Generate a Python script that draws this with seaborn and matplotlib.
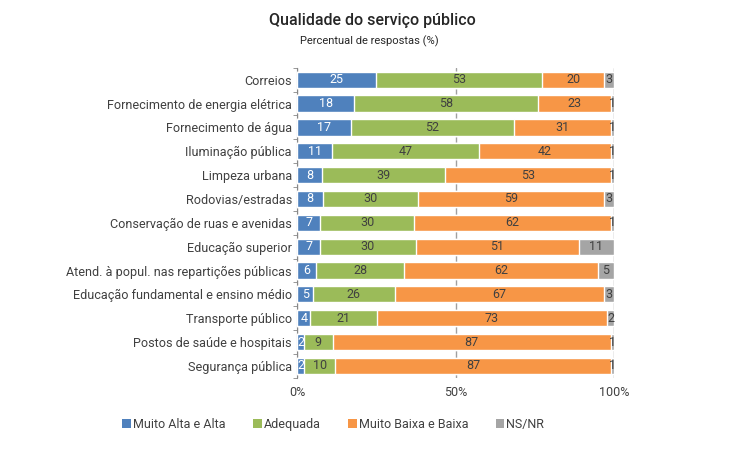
import matplotlib
matplotlib.use('Agg')
import matplotlib.pyplot as plt
import seaborn as sns
import pandas as pd
import numpy as np
from matplotlib.patches import Patch

sns.set_style('white')
plt.rcParams['font.family'] = ['Roboto', 'DejaVu Sans']

# dados
categorias = ['Correios', 'Fornecimento de energia elétrica', 'Fornecimento de água',
              'Iluminação pública', 'Limpeza urbana', 'Rodovias/estradas',
              'Conservação de ruas e avenidas', 'Educação superior',
              'Atend. à popul. nas repartições públicas',
              'Educação fundamental e ensino médio', 'Transporte público',
              'Postos de saúde e hospitais', 'Segurança pública']
muito_alta = [25, 18, 17, 11, 8, 8, 7, 7, 6, 5, 4, 2, 2]
adequada = [53, 58, 52, 47, 39, 30, 30, 30, 28, 26, 21, 9, 10]
muito_baixa = [20, 23, 31, 42, 53, 59, 62, 51, 62, 67, 73, 87, 87]
ns_nr = [3, 1, 1, 1, 1, 3, 1, 11, 5, 3, 2, 1, 1]

series = ['Muito Alta e Alta', 'Adequada', 'Muito Baixa e Baixa', 'NS/NR']
cores = ['#4F81BD', '#9BBB59', '#F79646', '#A5A5A5']
cor_texto = ['white', '#404040', '#404040', '#404040']

df = pd.DataFrame({'cat': categorias, series[0]: muito_alta, series[1]: adequada,
                   series[2]: muito_baixa, series[3]: ns_nr})
total = df[series].sum(axis=1)
pct = df[series].div(total, axis=0) * 100
cum = pct.cumsum(axis=1)

fig = plt.figure(figsize=(7.29, 4.58), dpi=100)
ax = fig.add_axes([0.408, 0.175, 0.434, 0.677])

# barras empilhadas: desenha as somas acumuladas da maior para a menor
for i in range(len(series) - 1, -1, -1):
    d = pd.DataFrame({'cat': categorias, 'v': cum[series[i]].values})
    sns.barplot(data=d, y='cat', x='v', color=cores[i], orient='h',
                width=0.68, saturation=1, ax=ax, zorder=3)

# rótulos
for j in range(len(categorias)):
    left = 0
    for i, s in enumerate(series):
        w = pct[s].iloc[j]
        val = df[s].iloc[j]
        ax.text(left + w / 2, j, str(val), ha='center', va='center',
                fontsize=9, color=cor_texto[i], zorder=5)
        left += w

ax.set_xlim(0, 100)
ax.set_ylim(len(categorias) - 0.5, -0.5)
ax.set_xticks([0, 50, 100])
ax.set_xticklabels(['0%', '50%', '100%'], fontsize=9, color='#404040')
ax.tick_params(axis='y', labelsize=9.1, labelcolor='#404040', pad=4)
ax.tick_params(axis='x', length=0, pad=6)
ax.set_yticks(np.arange(len(categorias) + 1) - 0.5, minor=True)
ax.tick_params(axis='y', which='minor', length=3, color='#888888', left=True)
ax.tick_params(axis='y', which='major', length=0)
ax.set_xlabel('')
ax.set_ylabel('')
ax.xaxis.grid(True, color='#A0A0A0', linewidth=1, zorder=0)
ax.set_axisbelow(True)
for s in ['top', 'right', 'bottom']:
    ax.spines[s].set_visible(False)
ax.spines['left'].set_color('#888888')

fig.text(0.511, 0.955, 'Qualidade do serviço público', ha='center', va='center',
         fontsize=11.5, fontweight='medium', color='#262626')
fig.text(0.506, 0.91, 'Percentual de respostas (%)', ha='center', va='center',
         fontsize=8, color='#262626')

handles = [Patch(facecolor=c, edgecolor='none') for c in cores]
fig.legend(handles, series, loc='center', bbox_to_anchor=(0.457, 0.074), ncol=4,
           frameon=False, fontsize=9, handlelength=0.7, handleheight=0.7,
           handletextpad=0.15, columnspacing=2.2, labelcolor='#404040')

fig.savefig('out.png', dpi=100)
